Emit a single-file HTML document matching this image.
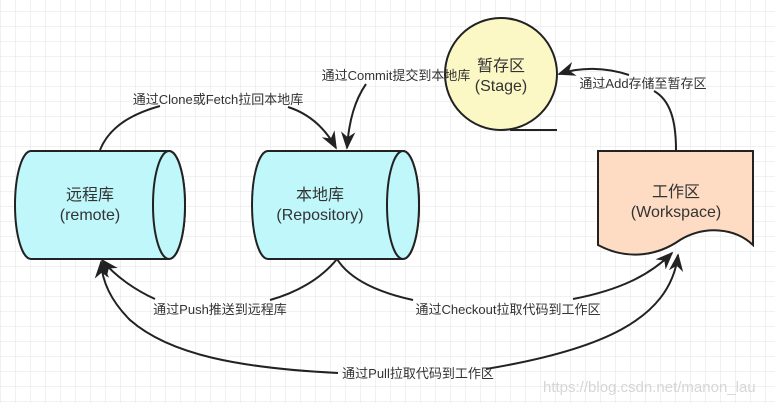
<!DOCTYPE html>
<html><head><meta charset="utf-8"><style>
html,body{margin:0;padding:0;background:#fff;}
svg{display:block;}
text{font-family:"Liberation Sans","Noto Sans CJK SC",sans-serif;fill:#333;}
</style></head><body>
<svg width="775" height="403" viewBox="0 0 775 403" xmlns="http://www.w3.org/2000/svg">
<defs>
<pattern id="g" width="15" height="15" patternUnits="userSpaceOnUse" x="1" y="12">
<path d="M15 0V15M0 15H15" fill="none" stroke="#e3e3e3" stroke-width="1"/>
</pattern>
<marker id="a" viewBox="0 0 10 10" refX="9" refY="5" markerWidth="9" markerHeight="9" orient="auto">
<path d="M0 1L10 5L0 9L3 5Z" fill="#222"/>
</marker>
</defs>
<rect width="775" height="403" fill="url(#g)"/>

<path d="M31 151H169A16 54 0 0 1 169 259H31A16 54 0 0 1 31 151Z" fill="#bff7fb" stroke="#222" stroke-width="2"/>
<ellipse cx="169" cy="205" rx="16" ry="54" fill="#bff7fb" stroke="#222" stroke-width="2"/>
<text x="90" y="200" font-size="16" text-anchor="middle">远程库</text>
<text x="90" y="220" font-size="16" text-anchor="middle">(remote)</text>

<path d="M268 151H403A16 54 0 0 1 403 259H268A16 54 0 0 1 268 151Z" fill="#bff7fb" stroke="#222" stroke-width="2"/>
<ellipse cx="403" cy="205" rx="16" ry="54" fill="#bff7fb" stroke="#222" stroke-width="2"/>
<text x="320" y="200" font-size="16" text-anchor="middle">本地库</text>
<text x="320" y="220" font-size="16" text-anchor="middle">(Repository)</text>

<circle cx="501" cy="74" r="56" fill="#fcf8c6" stroke="#222" stroke-width="2"/>
<line x1="510" y1="130" x2="557" y2="130" stroke="#222" stroke-width="2"/>
<text x="501" y="71" font-size="16" text-anchor="middle">暂存区</text>
<text x="501" y="91" font-size="16" text-anchor="middle">(Stage)</text>

<path d="M598 151H753V245C735 228 705 225 680 240C660 254 630 262 598 245Z" fill="#fddcc3" stroke="#222" stroke-width="2"/>
<text x="676" y="197" font-size="16" text-anchor="middle">工作区</text>
<text x="676" y="217" font-size="16" text-anchor="middle">(Workspace)</text>

<g fill="none" stroke="#222" stroke-width="2">
<path d="M100 150C110 125 135 113 160 106"/>
<path d="M288 107C310 114 325 128 336 148" marker-end="url(#a)"/>
<path d="M366 84C355 100 349 120 347 148" marker-end="url(#a)"/>
<path d="M676 150C676 120 670 100 654 91"/>
<path d="M629 75C605 67 580 67 559 74" marker-end="url(#a)"/>
<path d="M337 259C320 280 295 293 270 300"/>
<path d="M155 299C135 290 115 276 102 260" marker-end="url(#a)"/>
<path d="M337 259C350 280 380 293 413 300"/>
<path d="M573 299C620 290 650 275 672 253" marker-end="url(#a)"/>
<path d="M338 373C240 368 170 355 130 320C110 300 102 280 101 262" marker-end="url(#a)"/>
<path d="M486 369C600 350 670 320 678 255" marker-end="url(#a)"/>
</g>

<g font-size="13">
<text x="218" y="104" text-anchor="middle">通过Clone或Fetch拉回本地库</text>
<text x="396" y="80" text-anchor="middle">通过Commit提交到本地库</text>
<text x="643" y="88" text-anchor="middle">通过Add存储至暂存区</text>
<text x="220" y="314" text-anchor="middle">通过Push推送到远程库</text>
<text x="508" y="314" text-anchor="middle">通过Checkout拉取代码到工作区</text>
<text x="418" y="378" text-anchor="middle">通过Pull拉取代码到工作区</text>
</g>
<text x="543" y="392" font-size="15" style="fill:#d6d6d6">https://blog.csdn.net/manon_lau</text>
</svg>
</body></html>
